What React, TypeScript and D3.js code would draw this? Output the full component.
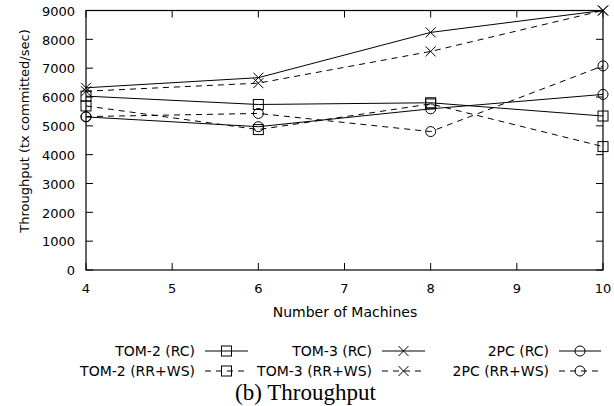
import React from "react";
import * as d3 from "d3";

const machines = [4, 6, 8, 10];
const tom2RC = [6030, 5740, 5800, 5340];
const tom2RRWS = [5690, 4870, 5760, 4280];
const tom3RC = [6320, 6670, 8240, 9000];
const tom3RRWS = [6200, 6480, 7580, 9000];
const pc2RC = [5310, 4970, 5590, 6090];
const pc2RRWS = [5320, 5430, 4800, 7080];

const xTicks = [4, 5, 6, 7, 8, 9, 10];
const yTicks = [0, 1000, 2000, 3000, 4000, 5000, 6000, 7000, 8000, 9000];

type Marker = "square" | "cross" | "circle";
const seriesList: { name: string; values: number[]; dashed: boolean; marker: Marker }[] = [
  { name: "TOM-2 (RC)", values: tom2RC, dashed: false, marker: "square" },
  { name: "TOM-2 (RR+WS)", values: tom2RRWS, dashed: true, marker: "square" },
  { name: "TOM-3 (RC)", values: tom3RC, dashed: false, marker: "cross" },
  { name: "TOM-3 (RR+WS)", values: tom3RRWS, dashed: true, marker: "cross" },
  { name: "2PC (RC)", values: pc2RC, dashed: false, marker: "circle" },
  { name: "2PC (RR+WS)", values: pc2RRWS, dashed: true, marker: "circle" },
];

const W = 614;
const H = 406;
const L = 86, R = 603, T = 10.5, B = 270;
const FONT = "'DejaVu Sans', sans-serif";
const DASH = "6,5";

function MarkerShape({ type, x, y }: { type: Marker; x: number; y: number }) {
  const s = 5;
  if (type === "square")
    return <rect x={x - s} y={y - s} width={2 * s} height={2 * s} fill="none" stroke="#000" strokeWidth={1} />;
  if (type === "circle")
    return <circle cx={x} cy={y} r={s} fill="none" stroke="#000" strokeWidth={1} />;
  return (
    <path d={`M${x - s},${y - s}L${x + s},${y + s}M${x - s},${y + s}L${x + s},${y - s}`} stroke="#000" strokeWidth={1} fill="none" />
  );
}

export default function App() {
  const x = d3.scaleLinear().domain([4, 10]).range([L, R]);
  const y = d3.scaleLinear().domain([0, 9000]).range([B, T]);
  const line = d3
    .line<number>()
    .x((_, i) => x(machines[i]))
    .y((d) => y(d));

  const legendCols = [
    { textEnd: 195, s0: 205, s1: 248 },
    { textEnd: 372, s0: 382, s1: 425 },
    { textEnd: 549, s0: 559, s1: 601 },
  ];
  const legendRows = [351, 371];

  return (
    <svg width={W} height={H} style={{ position: "absolute", left: 0, top: 0, background: "#fff" }}>
      <rect x={0} y={0} width={W} height={H} fill="#fff" />
      {yTicks.map((t) => (
        <g key={"y" + t}>
          <line x1={L} x2={L + 7} y1={y(t)} y2={y(t)} stroke="#000" />
          <line x1={R} x2={R - 7} y1={y(t)} y2={y(t)} stroke="#000" />
          <text x={75} y={y(t)} dy="0.4em" textAnchor="end" fontFamily={FONT} fontSize={13} fill="#000">
            {t}
          </text>
        </g>
      ))}
      {xTicks.map((t) => (
        <g key={"x" + t}>
          <line x1={x(t)} x2={x(t)} y1={B} y2={B - 7} stroke="#000" />
          <line x1={x(t)} x2={x(t)} y1={T} y2={T + 7} stroke="#000" />
          <text x={x(t)} y={293} textAnchor="middle" fontFamily={FONT} fontSize={13} fill="#000">
            {t}
          </text>
        </g>
      ))}
      <rect x={L} y={T} width={R - L} height={B - T} fill="none" stroke="#000" strokeWidth={1.2} />
      {seriesList.map((s) => (
        <g key={s.name}>
          <path d={line(s.values) || ""} fill="none" stroke="#000" strokeWidth={1} strokeDasharray={s.dashed ? DASH : undefined} />
          {s.values.map((v, i) => (
            <MarkerShape key={i} type={s.marker} x={x(machines[i])} y={y(v)} />
          ))}
        </g>
      ))}
      <text x={345} y={317} textAnchor="middle" fontFamily={FONT} fontSize={14} fill="#000">
        Number of Machines
      </text>
      <text transform={`translate(29,131) rotate(-90)`} textAnchor="middle" fontFamily={FONT} fontSize={13} fill="#000">
        Throughput (tx committed/sec)
      </text>
      {seriesList.map((s, i) => {
        const col = legendCols[Math.floor(i / 2)];
        const ry = legendRows[i % 2];
        const mx = (col.s0 + col.s1) / 2;
        return (
          <g key={"lg" + s.name}>
            <text x={col.textEnd} y={ry} dy="0.36em" textAnchor="end" fontFamily={FONT} fontSize={14} fill="#000">
              {s.name}
            </text>
            <line x1={col.s0} x2={col.s1} y1={ry} y2={ry} stroke="#000" strokeDasharray={s.dashed ? DASH : undefined} />
            <MarkerShape type={s.marker} x={mx} y={ry} />
          </g>
        );
      })}
      <text x={305.5} y={400} textAnchor="middle" fontFamily="'Liberation Serif', 'Times New Roman', serif" fontSize={23} fill="#000">
        (b) Throughput
      </text>
    </svg>
  );
}
